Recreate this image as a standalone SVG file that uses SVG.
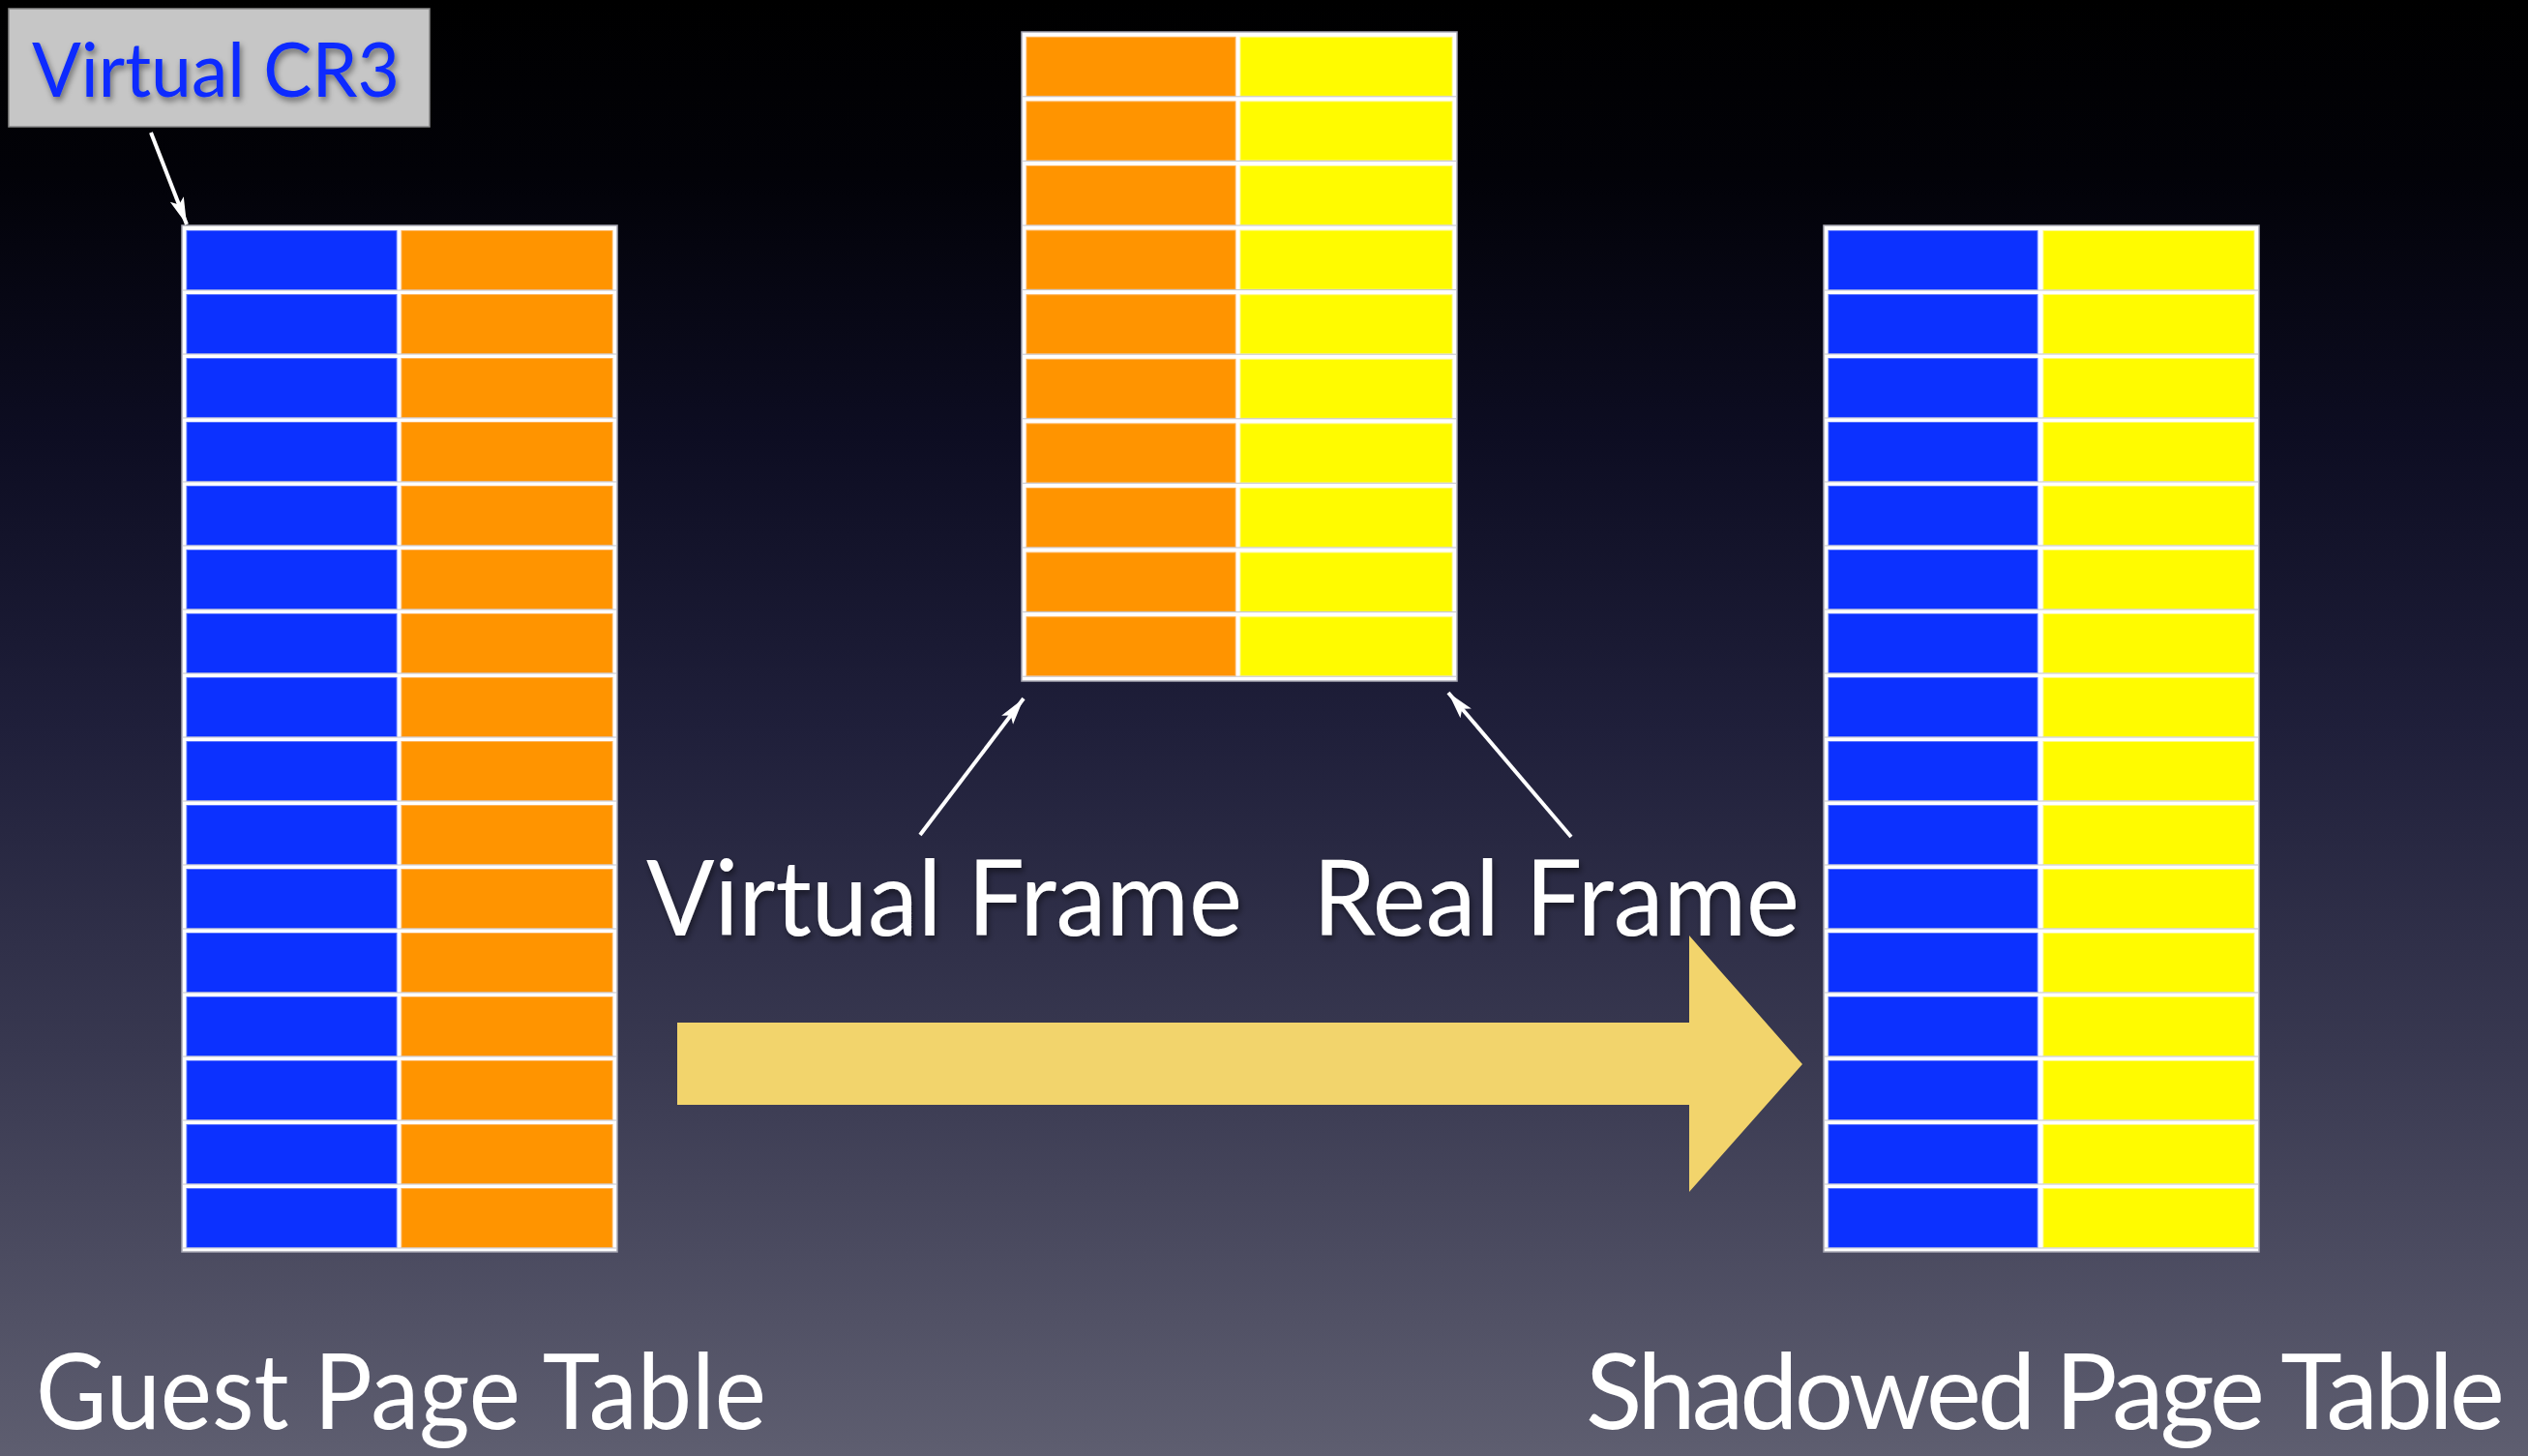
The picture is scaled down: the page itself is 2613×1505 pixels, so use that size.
<svg xmlns="http://www.w3.org/2000/svg" xmlns:xlink="http://www.w3.org/1999/xlink" width="2613" height="1505" viewBox="0 0 2613 1505">
  <defs>
    <linearGradient id="bg" x1="0" y1="0" x2="0" y2="1">
      <stop offset="0" stop-color="#000000"/>
      <stop offset="0.12" stop-color="#020208"/>
      <stop offset="0.3" stop-color="#0d0d22"/>
      <stop offset="0.5" stop-color="#1f1f3a"/>
      <stop offset="0.72" stop-color="#383850"/>
      <stop offset="1" stop-color="#5e5e70"/>
    </linearGradient>
    <filter id="textShadow" x="-2%" y="-15%" width="104%" height="135%">
      <feDropShadow dx="2" dy="4" stdDeviation="3" flood-color="#000000" flood-opacity="0.45"/>
    </filter>
    <marker id="head" markerUnits="userSpaceOnUse" markerWidth="30" markerHeight="18" refX="28" refY="9" orient="auto">
      <path d="M0,1.5 L28,9 L0,16.5 L6,9 Z" fill="#ffffff"/>
    </marker>
    <!-- one table row: two cells inside a 450px wide white frame -->
    <g id="rowGuest">
      <rect x="5" y="0" width="217" height="61" class="blue"/>
      <rect x="227" y="0" width="218" height="61" class="orange"/>
      <line x1="0" y1="61.5" x2="450" y2="61.5" class="sep"/>
    </g>
    <g id="rowFrame">
      <rect x="5" y="0" width="216" height="61" class="orange"/>
      <rect x="226" y="0" width="219" height="61" class="yellow"/>
      <line x1="0" y1="61.5" x2="450" y2="61.5" class="sep"/>
    </g>
    <g id="rowShadow">
      <rect x="5" y="0" width="216" height="61" class="blue"/>
      <rect x="227" y="0" width="218" height="61" class="yellow"/>
      <line x1="0" y1="61.5" x2="450" y2="61.5" class="sep"/>
    </g>
  </defs>
  <style>
    .blue { fill: #0c31ff; stroke: #5a74ff; stroke-width: 1; }
    .orange { fill: #ff9400; stroke: #ffb45a; stroke-width: 1; }
    .yellow { fill: #fffb00; stroke: #fffb80; stroke-width: 1; }
    .sep { stroke: #c4c4cc; stroke-width: 1; }
    .frame { fill: #ffffff; stroke: #a8a8b4; stroke-width: 1.5; }
    .label { font-family: Lato, "Open Sans", "Liberation Sans", sans-serif; fill: #ffffff; }
    .pointer { stroke: #ffffff; stroke-width: 4; fill: none; marker-end: url(#head); }
  </style>

  <rect x="0" y="0" width="2613" height="1505" fill="url(#bg)"/>

  <!-- CR3 register box -->
  <g id="cr3">
    <rect x="9" y="9" width="435" height="122" fill="#c6c6c6" stroke="#8a8a8a" stroke-width="1.5"/>
    <text x="33" y="100" class="label" font-size="77" textLength="380" lengthAdjust="spacingAndGlyphs" style="fill:#0a2cff" filter="url(#textShadow)">Virtual CR3</text>
  </g>

  <!-- guest page table: 16 rows -->
  <g id="guest-table">
    <rect x="188" y="233" width="450" height="1061" class="frame"/>
    <use xlink:href="#rowGuest" transform="translate(188,238.5)"/>
    <use xlink:href="#rowGuest" transform="translate(188,304.5)"/>
    <use xlink:href="#rowGuest" transform="translate(188,370.5)"/>
    <use xlink:href="#rowGuest" transform="translate(188,436.5)"/>
    <use xlink:href="#rowGuest" transform="translate(188,502.5)"/>
    <use xlink:href="#rowGuest" transform="translate(188,568.5)"/>
    <use xlink:href="#rowGuest" transform="translate(188,634.5)"/>
    <use xlink:href="#rowGuest" transform="translate(188,700.5)"/>
    <use xlink:href="#rowGuest" transform="translate(188,766.5)"/>
    <use xlink:href="#rowGuest" transform="translate(188,832.5)"/>
    <use xlink:href="#rowGuest" transform="translate(188,898.5)"/>
    <use xlink:href="#rowGuest" transform="translate(188,964.5)"/>
    <use xlink:href="#rowGuest" transform="translate(188,1030.5)"/>
    <use xlink:href="#rowGuest" transform="translate(188,1096.5)"/>
    <use xlink:href="#rowGuest" transform="translate(188,1162.5)"/>
    <use xlink:href="#rowGuest" transform="translate(188,1228.5)"/>
  </g>

  <!-- frame mapping table: 10 rows -->
  <g id="frame-table">
    <rect x="1056" y="33" width="450" height="671" class="frame"/>
    <use xlink:href="#rowFrame" transform="translate(1056,38.3)"/>
    <use xlink:href="#rowFrame" transform="translate(1056,104.9)"/>
    <use xlink:href="#rowFrame" transform="translate(1056,171.5)"/>
    <use xlink:href="#rowFrame" transform="translate(1056,238.1)"/>
    <use xlink:href="#rowFrame" transform="translate(1056,304.7)"/>
    <use xlink:href="#rowFrame" transform="translate(1056,371.3)"/>
    <use xlink:href="#rowFrame" transform="translate(1056,437.9)"/>
    <use xlink:href="#rowFrame" transform="translate(1056,504.5)"/>
    <use xlink:href="#rowFrame" transform="translate(1056,571.1)"/>
    <use xlink:href="#rowFrame" transform="translate(1056,637.7)"/>
  </g>

  <!-- shadow page table: 16 rows -->
  <g id="shadow-table">
    <rect x="1885" y="233" width="450" height="1061" class="frame"/>
    <use xlink:href="#rowShadow" transform="translate(1885,238.5)"/>
    <use xlink:href="#rowShadow" transform="translate(1885,304.5)"/>
    <use xlink:href="#rowShadow" transform="translate(1885,370.5)"/>
    <use xlink:href="#rowShadow" transform="translate(1885,436.5)"/>
    <use xlink:href="#rowShadow" transform="translate(1885,502.5)"/>
    <use xlink:href="#rowShadow" transform="translate(1885,568.5)"/>
    <use xlink:href="#rowShadow" transform="translate(1885,634.5)"/>
    <use xlink:href="#rowShadow" transform="translate(1885,700.5)"/>
    <use xlink:href="#rowShadow" transform="translate(1885,766.5)"/>
    <use xlink:href="#rowShadow" transform="translate(1885,832.5)"/>
    <use xlink:href="#rowShadow" transform="translate(1885,898.5)"/>
    <use xlink:href="#rowShadow" transform="translate(1885,964.5)"/>
    <use xlink:href="#rowShadow" transform="translate(1885,1030.5)"/>
    <use xlink:href="#rowShadow" transform="translate(1885,1096.5)"/>
    <use xlink:href="#rowShadow" transform="translate(1885,1162.5)"/>
    <use xlink:href="#rowShadow" transform="translate(1885,1228.5)"/>
  </g>

  <!-- captions -->
  <g id="virtual-frame-label">
    <text x="668" y="967" class="label" font-size="108" textLength="616" lengthAdjust="spacingAndGlyphs" filter="url(#textShadow)">Virtual Frame</text>
  </g>
  <g id="real-frame-label">
    <text x="1357" y="967" class="label" font-size="108" textLength="503" lengthAdjust="spacingAndGlyphs" filter="url(#textShadow)">Real Frame</text>
  </g>
  <g id="guest-label">
    <text x="37" y="1477" class="label" font-size="108" textLength="755" lengthAdjust="spacingAndGlyphs">Guest Page Table</text>
  </g>
  <g id="shadow-label">
    <text x="1639" y="1477" class="label" font-size="108" letter-spacing="-4" textLength="946" lengthAdjust="spacingAndGlyphs">Shadowed Page Table</text>
  </g>

  <!-- connectors -->
  <g id="connectors">
    <line x1="156" y1="137" x2="193" y2="232" class="pointer"/>
    <line x1="951" y1="863" x2="1058" y2="722" class="pointer"/>
    <line x1="1624" y1="865" x2="1497" y2="716" class="pointer"/>
    <path d="M700,1057 L1746,1057 L1746,967 L1863,1100 L1746,1232 L1746,1142 L700,1142 Z" fill="#f2d46c"/>
  </g>
</svg>
